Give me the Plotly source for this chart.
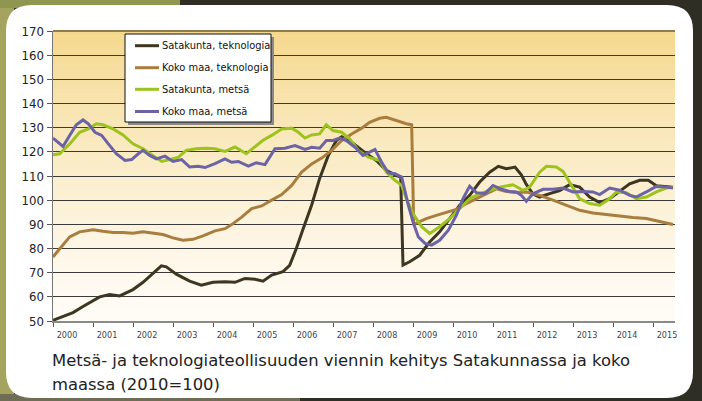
import plotly.graph_objects as go

# ---------------- data ----------------
years = list(range(2000, 2016))
y_ticks = list(range(50, 171, 10))
series_names = ["Satakunta, teknologia", "Koko maa, teknologia",
                "Satakunta, metsä", "Koko maa, metsä"]
series_colors = ["#3d3722", "#a97d3e", "#9dc31e", "#6b63a6"]

# months counted from January 2000
sat_tek_month = [0, 3, 6, 9, 12, 14, 17, 20, 24, 27, 30, 32.5, 34, 37, 41, 44.5, 48,
                 51.6, 54.6, 57.6, 60.6, 63, 65.6, 69, 71, 73, 75, 77.6, 80, 82.6, 85,
                 86.6, 89.6, 92.6, 94, 97, 100, 103, 104.3, 105, 107, 110, 113, 116,
                 119, 122, 125, 128, 131, 133.6, 136, 138.6, 140.5, 142, 144, 146, 149,
                 152, 155, 158, 161, 164, 167, 170, 173, 176, 178.6, 181, 184, 186]
sat_tek_value = [50.3, 52, 53.5, 56, 58.5, 60, 61, 60.4, 63, 66, 69.7, 72.8, 72.4, 69.4,
                 66.5, 64.8, 66, 66.2, 66, 67.6, 67.3, 66.5, 69, 70.4, 73, 80, 88, 98,
                 109, 118.5, 124.7, 126.2, 124, 120.6, 119.2, 116.4, 112.3, 110.2, 109.6,
                 73.1, 74.5, 77.2, 82.7, 86.9, 92.4, 97.9, 102, 107.5, 111.6, 114, 113,
                 113.7, 110.5, 106.5, 102.5, 101.3, 102.7, 104, 106.4, 105.4, 101.3, 99,
                 100.6, 103.6, 106.8, 108.2, 108.2, 106, 105.7, 105.4]

koko_tek_month = [0, 2, 5, 8, 12, 15, 18, 21, 24, 27, 30, 33, 36, 39, 42, 45, 48.6, 51.6,
                  53.6, 56.6, 59.6, 62.6, 65.6, 68.6, 71.6, 74.6, 77.6, 80.6, 83.6, 86.6,
                  89.6, 92.6, 95, 98, 100, 103, 106, 107.6, 108.2, 109, 112, 115, 118,
                  121, 124, 127, 130, 133, 136, 139, 142, 146, 150, 154, 158, 162, 166,
                  170, 174, 178, 182, 186]
koko_tek_value = [76.5, 80, 84.8, 86.9, 87.8, 87.1, 86.6, 86.6, 86.3, 86.9, 86.5, 85.8,
                  84.4, 83.4, 83.8, 85.2, 87.3, 88.2, 89.9, 93, 96.5, 97.6, 100, 102.3,
                  106.1, 111.6, 115, 117.4, 120.6, 124.7, 127.4, 129.8, 132.2, 133.9,
                  134.3, 132.9, 131.6, 131.2, 90.3, 90.5, 92.4, 93.7, 95.1, 96.2, 98.6,
                  100.6, 102.7, 104.7, 103.6, 103.2, 103.4, 102, 100, 97.9, 95.8, 94.7,
                  94, 93.3, 92.8, 92.4, 91, 89.9]

sat_mets_month = [0, 2, 5, 8, 10.6, 13, 15, 18, 21, 24, 27, 30, 32.6, 35, 37.6, 40, 43,
                  46, 48.6, 51.6, 54.6, 58, 60.6, 63, 65.6, 68.6, 71.6, 73.6, 75.6, 77.6,
                  80, 82, 84, 86.6, 89, 91.6, 94.6, 98, 100, 102, 104.6, 106, 108, 110.6,
                  113, 116, 119, 122, 125, 128, 131, 134, 138, 141, 143, 146, 148, 151,
                  153, 155.6, 158, 161, 164, 167, 169, 172, 175, 178, 181, 184, 186]
sat_mets_value = [118.8, 119.2, 123.3, 128.1, 129.5, 131.6, 131.2, 129.5, 127, 123.3,
                  121.3, 118.5, 116, 116.8, 117.8, 120.6, 121.3, 121.5, 121.3, 120.2, 122,
                  119.2, 122, 124.8, 126.8, 129.5, 129.8, 128.1, 125.7, 127, 127.4, 131.2,
                  128.8, 128.1, 125.4, 120.6, 117.8, 116.4, 111.6, 108.9, 106.1, 100.6,
                  94.4, 89, 86.2, 89, 92.4, 96.5, 100.6, 102.7, 104.1, 105.4, 106.4,
                  104.1, 105.4, 111.6, 114, 113.7, 111.9, 106.1, 100.6, 98.6, 97.9, 100.6,
                  103.4, 103.1, 100.6, 101.3, 103.4, 105, 105.4]

koko_mets_month = [0, 1.6, 3, 5, 7, 9, 10.6, 12.6, 14.6, 16.6, 19, 21.6, 23.6, 25.6, 27,
                   29, 31, 33.6, 36, 38.6, 41, 43.6, 45.6, 48.6, 51.6, 53.6, 55.6, 58.6,
                   61, 63.6, 66.6, 69.6, 72.6, 75.6, 77.6, 80, 82, 84, 86, 88, 90.6, 93,
                   95, 96.6, 98.6, 100.6, 102.6, 104.6, 106.6, 108, 109.6, 111.6, 113.6,
                   116, 118.6, 121, 123, 125, 127, 129.6, 132, 134.6, 137, 139, 140.5,
                   142, 144, 147, 150, 153, 156, 159, 162, 164, 167, 170, 173, 175, 178,
                   181, 184, 186]
koko_mets_value = [125.7, 124, 122.2, 126.8, 131.2, 133.2, 131.6, 128.1, 126.8, 123.3,
                   119.2, 116.4, 116.8, 119.2, 120.6, 118.5, 117.1, 118.2, 116, 116.8,
                   113.7, 114, 113.5, 115.1, 117.1, 115.7, 116, 114.1, 115.5, 114.7,
                   121.3, 121.5, 122.6, 121, 121.9, 121.5, 124.7, 124.7, 125.7, 124.7,
                   121.9, 118.5, 120, 121, 115.7, 111.3, 110.9, 109.6, 97.9, 91, 84.8,
                   82.1, 81.4, 83.4, 87.6, 93.7, 100.6, 105.8, 103.1, 102.7, 106.1, 104.5,
                   103.6, 103.4, 102, 99.6, 102.7, 104.5, 104.5, 105, 103.4, 103.6, 103.4,
                   102.3, 105, 104.1, 102, 101.3, 103.4, 105.7, 105.4, 105]

caption_line1 = "Metsä- ja teknologiateollisuuden viennin kehitys Satakunnassa ja koko"
caption_line2 = "maassa (2010=100)"

series = [
    (sat_tek_month, sat_tek_value),
    (koko_tek_month, koko_tek_value),
    (sat_mets_month, sat_mets_value),
    (koko_mets_month, koko_mets_value),
]

# ---------------- layout geometry ----------------
W, H = 702, 401
L, R, T, B = 53, 27, 31, 80
PW, PH = W - L - R, H - T - B


def px(x):
    return (x - L) / PW


def py(y):
    return (H - B - y) / PH


COND = "DejaVu Sans Condensed, Liberation Sans, Arial, sans-serif"

fig = go.Figure()
for name, color, (months, values) in zip(series_names, series_colors, series):
    fig.add_trace(go.Scatter(
        x=[2000 + m / 12 for m in months], y=values, mode="lines", name=name,
        line=dict(color=color, width=3), showlegend=False, hoverinfo="skip"))

shapes = []
# outer photo-like background pieces
shapes.append(dict(type="rect", xref="paper", yref="paper", x0=px(0), x1=px(14),
                   y0=py(0), y1=py(H), fillcolor="#a4a45e", line_width=0, layer="below"))
shapes.append(dict(type="rect", xref="paper", yref="paper", x0=px(0), x1=px(180),
                   y0=py(0), y1=py(8), fillcolor="#8f9650", line_width=0, layer="below"))
shapes.append(dict(type="rect", xref="paper", yref="paper", x0=px(0), x1=px(300),
                   y0=py(394), y1=py(H), fillcolor="#6f6d55", line_width=0, layer="below"))

# white rounded panel
xl, xr, yt, yb, r = 6, 693, 5, 398, 26
path = (f"M {px(xl + r)},{py(yt)} L {px(xr - r)},{py(yt)} "
        f"Q {px(xr)},{py(yt)} {px(xr)},{py(yt + r)} "
        f"L {px(xr)},{py(yb - r)} Q {px(xr)},{py(yb)} {px(xr - r)},{py(yb)} "
        f"L {px(xl + r)},{py(yb)} Q {px(xl)},{py(yb)} {px(xl)},{py(yb - r)} "
        f"L {px(xl)},{py(yt + r)} Q {px(xl)},{py(yt)} {px(xl + r)},{py(yt)} Z")
shapes.append(dict(type="path", xref="paper", yref="paper", path=path,
                   fillcolor="#ffffff", line_width=0, layer="below"))

# plot-area gradient (white at bottom to gold at top)
top_rgb = (245, 216, 141)
bot_rgb = (255, 252, 246)
n_steps = 60
for i in range(n_steps):
    f0 = i / n_steps
    f1 = (i + 1) / n_steps
    fm = ((f0 + f1) / 2) ** 1.35
    c = tuple(round(b + (t - b) * fm) for b, t in zip(bot_rgb, top_rgb))
    shapes.append(dict(type="rect", xref="paper", yref="paper", x0=0, x1=1,
                       y0=f0, y1=f1 + 0.002, fillcolor=f"rgb{c}", line_width=0,
                       layer="below"))

# top border of plot area
shapes.append(dict(type="line", xref="paper", yref="paper", x0=0, x1=1, y0=1, y1=1,
                   line=dict(color="#8c7c4e", width=2), layer="above"))

# legend box (drawn manually)
lx0, ly0, lx1, ly1 = 125, 34, 271, 122
shapes.append(dict(type="rect", xref="paper", yref="paper", x0=px(lx0 + 3), x1=px(lx1 + 3),
                   y0=py(ly0 + 3), y1=py(ly1 + 3), fillcolor="#8a8a8a", line_width=0,
                   layer="above"))
shapes.append(dict(type="rect", xref="paper", yref="paper", x0=px(lx0), x1=px(lx1),
                   y0=py(ly0), y1=py(ly1), fillcolor="#ffffff",
                   line=dict(color="#111111", width=1), layer="above"))
row_y = [45.7, 67.7, 89.3, 111.5]
annotations = []
for name, color, ry in zip(series_names, series_colors, row_y):
    shapes.append(dict(type="line", xref="paper", yref="paper", x0=px(135), x1=px(159),
                       y0=py(ry), y1=py(ry), line=dict(color=color, width=3),
                       layer="above"))
    annotations.append(dict(xref="paper", yref="paper", x=px(160), y=py(ry),
                            xanchor="left", yanchor="middle", text=name, showarrow=False,
                            font=dict(family=COND, size=11, color="#111111")))

# caption
for line, base in ((caption_line1, 368), (caption_line2, 392)):
    annotations.append(dict(xref="paper", yref="paper", x=px(50), y=py(base),
                            xanchor="left", yanchor="bottom", text=line, showarrow=False,
                            yshift=-4,
                            font=dict(family="DejaVu Sans, sans-serif", size=16.4,
                                      color="#222222")))

fig.update_layout(
    width=W, height=H,
    margin=dict(l=L, r=R, t=T, b=B, pad=0),
    paper_bgcolor="#2e2e24",
    plot_bgcolor="rgba(0,0,0,0)",
    shapes=shapes,
    annotations=annotations,
    showlegend=False,
    xaxis=dict(
        range=[2000, 2015.55], tickmode="array", tickvals=years,
        ticktext=[str(y) for y in years], ticklabelshift=14,
        ticks="outside", ticklen=4, tickcolor="#555555", tickwidth=1,
        tickfont=dict(family=COND, size=9, color="#444444"),
        showgrid=False, zeroline=False,
        showline=True, linecolor="#8a8a8a", linewidth=2,
    ),
    yaxis=dict(
        range=[50, 170], tickmode="array", tickvals=y_ticks,
        ticks="outside", ticklen=5, tickcolor="#555555", tickwidth=1,
        tickfont=dict(family=COND, size=13, color="#222222"),
        showgrid=True, gridcolor="#3a3a3a", gridwidth=1, zeroline=False,
        showline=True, linecolor="#777777", linewidth=1.5,
    ),
)

fig.write_html("out.html",
               config={"displayModeBar": False, "staticPlot": True},
               post_script="document.body.style.margin='0px';"
                           "document.body.style.overflow='hidden';")
